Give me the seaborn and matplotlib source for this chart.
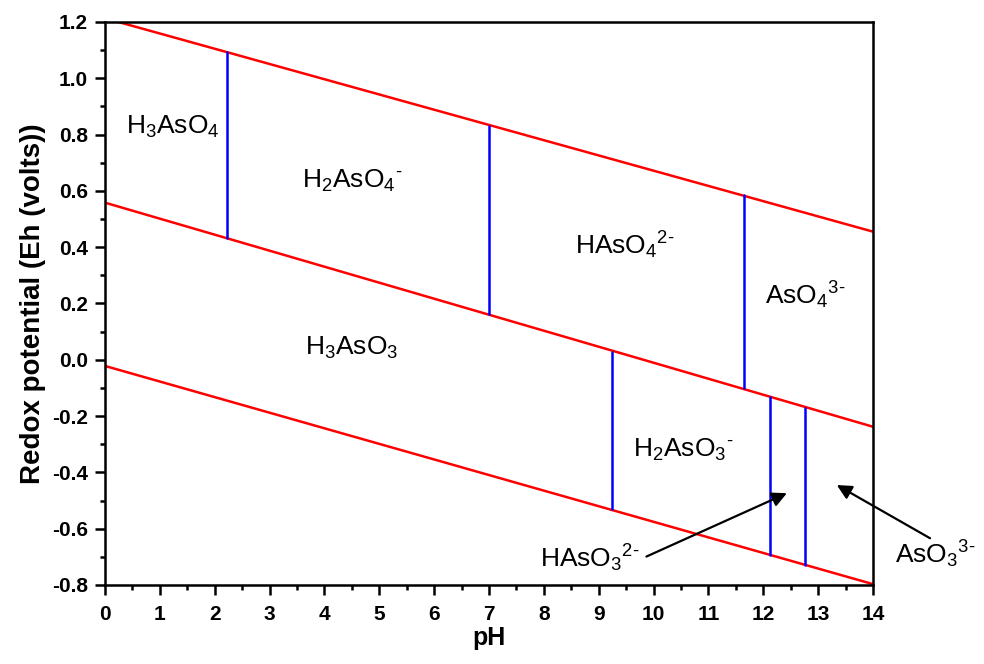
import matplotlib
matplotlib.use('Agg')
import matplotlib.pyplot as plt
from matplotlib.ticker import MultipleLocator, FormatStrFormatter
import pandas as pd
import seaborn as sns

# --- Data ---

# red boundary lines, endpoints at pH 0 and 14
red_x0 = [0.0, 0.0, 0.0]
red_y0 = [1.213, 0.558, -0.022]
red_x1 = [14.0, 14.0, 14.0]
red_y1 = [0.455, -0.238, -0.797]

# blue vertical boundaries (pKa lines)
blue_x = [2.23, 7.0, 9.24, 11.64, 12.12, 12.76]
blue_lo = [0.433, 0.163, -0.531, -0.100, -0.693, -0.729]
blue_hi = [1.094, 0.830, 0.029, 0.585, -0.132, -0.171]

HY = '\u2010'  # plain hyphen, mathtext would turn '-' into a spaced minus

# species labels
species = [r'H$_\mathregular{3}$AsO$_\mathregular{4}$',
           r'H$_\mathregular{2}$AsO$_\mathregular{4}$$^\mathregular{' + HY + '}$',
           r'HAsO$_\mathregular{4}$$^\mathregular{2' + HY + '}$',
           r'AsO$_\mathregular{4}$$^\mathregular{3' + HY + '}$',
           r'H$_\mathregular{3}$AsO$_\mathregular{3}$',
           r'H$_\mathregular{2}$AsO$_\mathregular{3}$$^\mathregular{' + HY + '}$']
species_x = [0.38, 3.59, 8.57, 12.03, 3.65, 9.62]
species_y = [0.827, 0.635, 0.408, 0.23, 0.042, -0.32]

# labels outside their tiny fields, with arrows
arrow_text = [r'HAsO$_\mathregular{3}$$^\mathregular{2' + HY + '}$',
              r'AsO$_\mathregular{3}$$^\mathregular{3' + HY + '}$']
arrow_tx = [7.93, 14.4]
arrow_ty = [-0.704, -0.69]
arrow_from_x = [9.87, 15.04]
arrow_from_y = [-0.699, -0.634]
arrow_to_x = [12.43, 13.34]
arrow_to_y = [-0.474, -0.445]

# --- Build long tables for seaborn ---
red_df = pd.DataFrame({
    'pH': red_x0 + red_x1,
    'Eh': red_y0 + red_y1,
    'line': list(range(3)) * 2,
})
blue_df = pd.DataFrame({
    'pH': blue_x + blue_x,
    'Eh': blue_lo + blue_hi,
    'line': list(range(len(blue_x))) * 2,
})

sns.set_style('ticks')
plt.rcParams['font.family'] = ['Liberation Sans', 'DejaVu Sans']
plt.rcParams['mathtext.fontset'] = 'custom'
plt.rcParams['mathtext.rm'] = 'Liberation Sans'
plt.rcParams['mathtext.it'] = 'Liberation Sans:italic'
plt.rcParams['mathtext.bf'] = 'Liberation Sans:bold'
plt.rcParams['text.color'] = 'black'
plt.rcParams['axes.labelcolor'] = 'black'
plt.rcParams['xtick.color'] = 'black'
plt.rcParams['ytick.color'] = 'black'
plt.rcParams['xtick.labelsize'] = 15
plt.rcParams['ytick.labelsize'] = 15

fig = plt.figure(figsize=(9.84, 6.64), dpi=100)
ax = fig.add_axes([0.1067, 0.119, 0.7805, 0.848])

sns.lineplot(data=red_df, x='pH', y='Eh', units='line', estimator=None,
             sort=False, color='#ff0000', linewidth=1.8, ax=ax)
sns.lineplot(data=blue_df, x='pH', y='Eh', units='line', estimator=None,
             sort=False, color='#0000ff', linewidth=1.8, ax=ax)

for t, x, y in zip(species, species_x, species_y):
    ax.text(x, y, t, fontsize=19, va='center', ha='left', color='black')

for t, x, y, fx, fy, tx, ty in zip(arrow_text, arrow_tx, arrow_ty,
                                   arrow_from_x, arrow_from_y, arrow_to_x, arrow_to_y):
    ax.text(x, y, t, fontsize=19, va='center', ha='left', color='black', clip_on=False)
    ax.annotate('', xy=(tx, ty), xytext=(fx, fy), annotation_clip=False,
                arrowprops=dict(arrowstyle='-|>', color='black', lw=1.6,
                                mutation_scale=22, shrinkA=0, shrinkB=0))

ax.set_xlim(0, 14)
ax.set_ylim(-0.8, 1.2)
ax.xaxis.set_major_locator(MultipleLocator(1))
ax.xaxis.set_minor_locator(MultipleLocator(0.5))
ax.yaxis.set_major_locator(MultipleLocator(0.2))
ax.yaxis.set_minor_locator(MultipleLocator(0.1))
ax.yaxis.set_major_formatter(FormatStrFormatter('%.1f'))

for s in ax.spines.values():
    s.set_linewidth(1.8)
    s.set_color('black')
ax.tick_params(which='major', length=7.5, width=1.8, direction='out', pad=5,
               labelsize=15, color='black', labelcolor='black')
ax.tick_params(which='minor', length=3.5, width=1.8, direction='out', color='black')
ax.tick_params(axis='x', which='major', pad=7)
for lab in ax.get_xticklabels() + ax.get_yticklabels():
    lab.set_fontweight('bold')

ax.set_xlabel('pH', fontsize=18, fontweight='bold', labelpad=1)
ax.set_ylabel('Redox potential (Eh (volts))', fontsize=20, fontweight='bold', labelpad=4)

fig.savefig('out.png', dpi=100)
